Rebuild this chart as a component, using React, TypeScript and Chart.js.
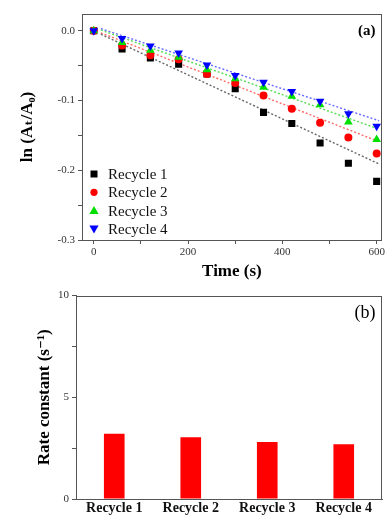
import React, { useEffect, useRef } from 'react';
import { Chart, registerables } from 'chart.js';
Chart.register(...registerables);

// ---- Data (panel a) ----
const times = [0, 60, 120, 180, 240, 300, 360, 420, 480, 540, 600];
const recycle1 = [0, -0.026, -0.039, -0.048, -0.062, -0.083, -0.117, -0.133, -0.161, -0.19, -0.216];
const recycle2 = [0, -0.021, -0.035, -0.041, -0.062, -0.075, -0.093, -0.112, -0.132, -0.153, -0.176];
const recycle3 = [0, -0.017, -0.028, -0.038, -0.056, -0.069, -0.081, -0.094, -0.106, -0.131, -0.156];
const recycle4 = [0, -0.011, -0.022, -0.032, -0.049, -0.064, -0.074, -0.087, -0.101, -0.119, -0.137];
const fitTimes = [15, 605];
const fit1 = [-0.005, -0.191];
const fit2 = [-0.003, -0.159];
const fit3 = [0.001, -0.141];
const fit4 = [0.003, -0.129];
const seriesNames = ['Recycle 1', 'Recycle 2', 'Recycle 3', 'Recycle 4'];
const xTicksA = [0, 100, 200, 300, 400, 500, 600];
const yTicksA = [-0.3, -0.25, -0.2, -0.15, -0.1, -0.05, 0];

// ---- Data (panel b) ----
const categories = ['Recycle 1', 'Recycle 2', 'Recycle 3', 'Recycle 4'];
const rates = [3.21, 3.03, 2.8, 2.69];
const yTicksB = [0, 2.5, 5, 7.5, 10];

const SERIF = '"Liberation Serif", "DejaVu Serif", serif';
const AXIS = '#555';
const colors = ['#000000', '#ff0000', '#00e000', '#0000ff'];
const fitColors = ['#666666', '#ff6a6a', '#55dd55', '#6a6aff'];
const styles: any[] = ['rect', 'circle', 'triangle', 'triangle'];
const rotations = [0, 0, 0, 180];
const radii = [5, 4, 5, 5];

function drawMarker(ctx: CanvasRenderingContext2D, i: number, x: number, y: number) {
  ctx.save();
  ctx.fillStyle = colors[i];
  ctx.beginPath();
  if (i === 0) {
    ctx.rect(x - 3.5, y - 3.5, 7, 7);
  } else if (i === 1) {
    ctx.arc(x, y, 3.6, 0, Math.PI * 2);
  } else if (i === 2) {
    ctx.moveTo(x, y - 4.5);
    ctx.lineTo(x + 4.6, y + 3.5);
    ctx.lineTo(x - 4.6, y + 3.5);
  } else {
    ctx.moveTo(x, y + 4.5);
    ctx.lineTo(x + 4.6, y - 3.5);
    ctx.lineTo(x - 4.6, y - 3.5);
  }
  ctx.closePath();
  ctx.fill();
  ctx.restore();
}

const framePlugin = (label: string, labelFont: string, lx: number, ly: number, legend: boolean) => ({
  id: 'frame_' + label,
  afterDraw(chart: any) {
    const { ctx, chartArea } = chart;
    ctx.save();
    ctx.strokeStyle = AXIS;
    ctx.lineWidth = 1;
    ctx.strokeRect(Math.round(chartArea.left) + 0.5, Math.round(chartArea.top) + 0.5,
      Math.round(chartArea.right - chartArea.left) - 1, Math.round(chartArea.bottom - chartArea.top));
    ctx.fillStyle = '#000';
    ctx.font = labelFont;
    ctx.textAlign = 'center';
    ctx.textBaseline = 'middle';
    ctx.fillText(label, chartArea.right - lx, chartArea.top + ly);
    if (legend) {
      ctx.font = '15px ' + SERIF;
      ctx.textAlign = 'left';
      const x0 = chartArea.left + 12;
      const y0 = chartArea.bottom - 66;
      seriesNames.forEach((n, i) => {
        const y = y0 + i * 18.3;
        drawMarker(ctx, i, x0, y);
        ctx.fillStyle = '#111';
        ctx.fillText(n, x0 + 14, y + 1);
      });
    }
    ctx.restore();
  },
});

function fixTicks(vals: number[]) {
  return (scale: any) => {
    scale.ticks = vals.map((v) => ({ value: v }));
  };
}

export default function App() {
  const topRef = useRef<HTMLCanvasElement>(null);
  const botRef = useRef<HTMLCanvasElement>(null);

  useEffect(() => {
    const series = [recycle1, recycle2, recycle3, recycle4];
    const fits = [fit1, fit2, fit3, fit4];
    const datasets: any[] = [];
    fits.forEach((f, i) => {
      datasets.push({
        type: 'line',
        data: fitTimes.map((t, j) => ({ x: t, y: f[j] })),
        borderColor: fitColors[i],
        borderWidth: 1.4,
        borderDash: [2, 2],
        pointRadius: 0,
        fill: false,
        order: 10,
      });
    });
    series.forEach((s, i) => {
      datasets.push({
        type: 'scatter',
        label: seriesNames[i],
        data: times.map((t, j) => ({ x: t, y: s[j] })),
        backgroundColor: colors[i],
        borderColor: colors[i],
        borderWidth: 0,
        pointStyle: styles[i],
        rotation: rotations[i],
        pointRadius: radii[i],
        order: 4 - i,
      });
    });

    const tickFont = { family: SERIF, size: 11 };
    const titleFont = { family: SERIF, size: 17, weight: 'bold' as const };

    const top = new Chart(topRef.current!, {
      type: 'scatter',
      data: { datasets },
      options: {
        responsive: false,
        animation: false,
        layout: { padding: { left: 13, top: 14, right: 0, bottom: 0 } },
        plugins: { legend: { display: false }, tooltip: { enabled: false } },
        scales: {
          x: {
            type: 'linear',
            min: -25,
            max: 611,
            afterBuildTicks: fixTicks(xTicksA),
            afterFit: (s: any) => { s.height = 46; },
            grid: { drawOnChartArea: false, color: AXIS, tickLength: 4 },
            border: { color: AXIS },
            ticks: {
              font: tickFont,
              color: '#333',
              padding: 2,
              maxRotation: 0,
              autoSkip: false,
              callback: (v: any) => (Number(v) % 200 === 0 ? String(v) : ''),
            },
            title: { display: true, text: 'Time (s)', font: titleFont, color: '#000' },
          },
          y: {
            min: -0.3,
            max: 0.024,
            afterBuildTicks: fixTicks(yTicksA),
            afterFit: (s: any) => { s.width = 69; },
            grid: { drawOnChartArea: false, color: AXIS, tickLength: 4 },
            border: { color: AXIS },
            ticks: {
              font: tickFont,
              color: '#333',
              padding: 3,
              autoSkip: false,
              callback: (v: any) => {
                const n = Number(v);
                return Math.abs(n * 10 - Math.round(n * 10)) < 1e-6 ? n.toFixed(1) : '';
              },
            },
            title: { display: true, text: 'ln (Aₜ/A₀)', font: titleFont, color: '#000' },
          },
        },
      },
      plugins: [framePlugin('(a)', 'bold 15px ' + SERIF, 15, 17, true)],
    } as any);

    const bot = new Chart(botRef.current!, {
      type: 'bar',
      data: {
        labels: categories,
        datasets: [
          {
            data: rates,
            backgroundColor: '#ff0000',
            borderWidth: 0,
            barPercentage: 0.27,
            categoryPercentage: 1,
          },
        ],
      },
      options: {
        responsive: false,
        animation: false,
        layout: { padding: { left: 30, top: 9, right: 5, bottom: 0 } },
        plugins: { legend: { display: false }, tooltip: { enabled: false } },
        scales: {
          x: {
            afterFit: (s: any) => { s.height = 19; },
            grid: { display: false, drawTicks: false },
            border: { color: AXIS },
            ticks: {
              font: { family: SERIF, size: 14, weight: 'bold' },
              color: '#111',
              padding: 1,
              maxRotation: 0,
              autoSkip: false,
            },
          },
          y: {
            min: 0,
            max: 10,
            afterBuildTicks: fixTicks(yTicksB),
            afterFit: (s: any) => { s.width = 46; },
            grid: { drawOnChartArea: false, color: AXIS, tickLength: 4 },
            border: { color: AXIS },
            ticks: {
              font: tickFont,
              color: '#333',
              padding: 3,
              autoSkip: false,
              callback: (v: any) => (Number(v) % 5 === 0 ? String(v) : ''),
            },
            title: { display: true, text: 'Rate constant (s⁻¹)', font: titleFont, color: '#000' },
          },
        },
      },
      plugins: [framePlugin('(b)', '18px ' + SERIF, 17, 18, false)],
    } as any);

    return () => {
      top.destroy();
      bot.destroy();
    };
  }, []);

  return (
    <div style={{ position: 'fixed', left: 0, top: 0, width: 387, height: 518, background: '#fff' }}>
      <canvas ref={topRef} width={387} height={286} style={{ position: 'absolute', left: 0, top: 0 }} />
      <canvas ref={botRef} width={387} height={232} style={{ position: 'absolute', left: 0, top: 286 }} />
    </div>
  );
}
